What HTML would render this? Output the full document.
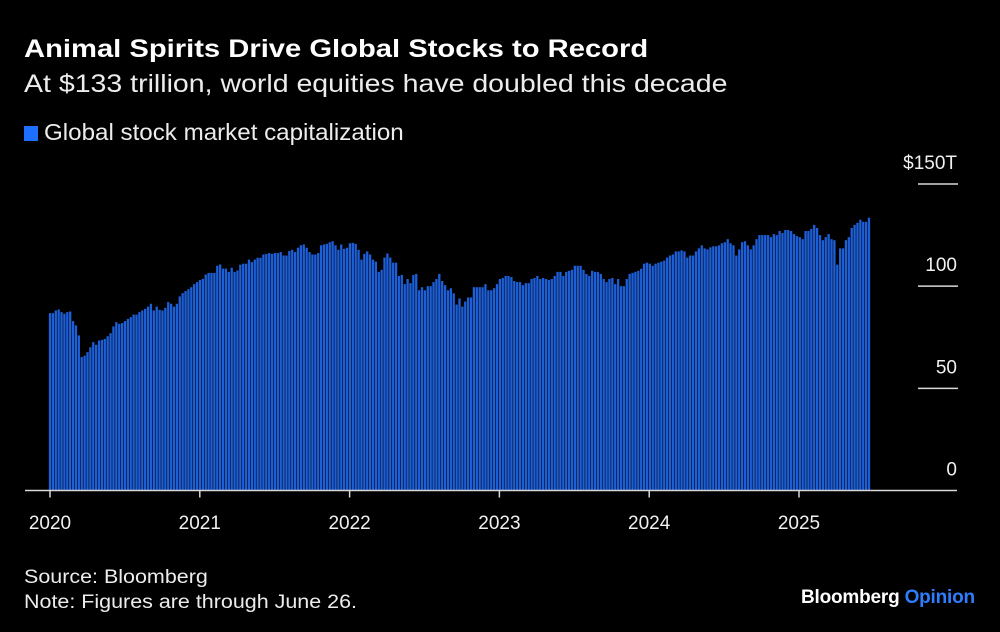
<!DOCTYPE html>
<html><head><meta charset="utf-8"><style>
body{margin:0;background:#000;width:1000px;height:632px;overflow:hidden;font-family:"Liberation Sans",sans-serif;color:#fff}
.t{position:absolute;white-space:nowrap;line-height:1;transform-origin:0 0}
</style></head><body>
<div class="t" style="left:24px;top:37px;font-size:25px;font-weight:bold;transform:scaleX(1.167)">Animal Spirits Drive Global Stocks to Record</div>
<div class="t" style="left:24px;top:72px;font-size:25px;color:#ececec;transform:scaleX(1.14)">At $133 trillion, world equities have doubled this decade</div>
<div class="t" style="left:24px;top:121px;font-size:23px;color:#ececec"><span style="display:inline-block;width:14px;height:15px;background:#1f6fff;margin-right:6px;vertical-align:-1px"></span><span style="display:inline-block;transform:scaleX(1.05);transform-origin:0 0">Global stock market capitalization</span></div>
<svg id="chart" width="1000" height="632" style="position:absolute;left:0;top:0"></svg>
<div class="t" style="left:24px;top:568px;font-size:19px;color:#ececec;transform:scaleX(1.13)">Source: Bloomberg</div>
<div class="t" style="left:24px;top:593px;font-size:19px;color:#ececec;transform:scaleX(1.13)">Note: Figures are through June 26.</div>
<div class="t" style="left:801px;top:588px;font-size:19px;font-weight:bold;letter-spacing:-0.2px">Bloomberg <span style="color:#2f7dff">Opinion</span></div>
<script>
const values=[86.8,86.8,88.1,88.6,87.3,86.5,87.3,87.6,82.9,80.8,75.9,65.3,66,67.7,70.1,72.6,71.3,73.4,73.7,74.2,75.5,77,80.3,82.4,81.6,81.9,82.9,84,84.8,86.1,86.1,87.3,88.1,88.9,90,91.4,88.1,90,88.4,88.1,89.4,92.2,91.4,90,91.4,95,96.6,97.6,98.5,99.5,101,102,103,103.6,105.7,106.5,106.5,106.5,110,110.6,108.6,108.6,107,109,107,107.7,110.5,111,111,113,111.8,113,113.9,113.9,115.5,115.8,116.2,115.8,116.2,116.2,116.7,115,115,117.2,117.8,116.7,118.8,120,120.4,118.8,116.7,115.5,115.5,116.2,120,120.4,120.7,121.5,122,120,117.8,120.4,118.3,118.8,121,121.2,120.7,117.8,113,115.8,
117,115.5,113,112,107,108,114,116,114,111.5,111.5,105,105.5,101,103.5,101.5,105.5,106,98,99.5,98,100,100,102,103.5,106,102.5,100.5,98,99,96.5,91,94,90,92.5,94.5,94.5,99.5,99.5,99.5,99.5,101,98,98,99,101,103.5,104,105,105,104.5,102.5,102,102,100.5,101.5,101.5,103.5,104,105,103.5,104,103.5,103,103.5,105,107,107,105,107,107.5,108,110,110,110,108,106,105,107.5,107,107,106,103.5,102,103.5,104,101,
103.5,100,100,103.5,106,106.5,107,107.5,108.5,111,111.5,111,110,111,111.5,112,112.5,114,115,115.5,117,117,117.5,117,114,115,115,117,118.5,120,118.5,118,119,119.5,119.5,120,121,121.5,123,121,120,115,118,121.5,122,120,118,120,123,125,125,125,125,124,125.5,125,127,126,127.5,127.5,127,125.5,124.5,124,123,127,127,128,130,128.5,125,122.5,124,125.5,123,122.5,110.5,118.5,118.5,122.5,124,128.5,130,131,132.5,131.5,131.5,133.5];
const yTicks=[0,50,100,150];
const yTickLabels=["0","50","100","$150T"];
const years=["2020","2021","2022","2023","2024","2025"];
const svg=document.getElementById('chart');
const NS='http://www.w3.org/2000/svg';
const y0=490.5, yPer=(490.5-184)/150;
const yScale=v=>y0-v*yPer;
const xYear=i=>50+i*149.8;
const x0=50, x1=869;
const xBar=i=>x0+i*(x1-x0)/(values.length-1);
function mk(t,a){const e=document.createElementNS(NS,t);for(const k in a)e.setAttribute(k,a[k]);svg.appendChild(e);return e;}
values.forEach((v,i)=>{
 const r=mk('rect',{x:xBar(i)-1.15,y:yScale(v),width:2.3,height:y0-yScale(v),fill:'#1d5fd8'});
 
 
});
yTicks.forEach((t,i)=>{
 if(t>0){const l=mk('line',{x1:918,x2:958,y1:yScale(t),y2:yScale(t),stroke:'#d8d8d8','stroke-width':1.5});
 
 }
 const tx=mk('text',{x:957,y:yScale(t)-15,'text-anchor':'end',fill:'#f0f0f0','font-size':19,'font-family':'Liberation Sans, sans-serif'});
 tx.textContent=yTickLabels[i];
 
 
});
const ax=mk('line',{x1:25,x2:957,y1:y0,y2:y0,stroke:'#d8d8d8','stroke-width':1.5});


years.forEach((yr,i)=>{
 const tk=mk('line',{x1:xYear(i),x2:xYear(i),y1:y0,y2:y0+7,stroke:'#d8d8d8','stroke-width':1.5});
 
 
 const tx=mk('text',{x:xYear(i),y:529,'text-anchor':'middle',fill:'#f0f0f0','font-size':19,'font-family':'Liberation Sans, sans-serif'});
 tx.textContent=yr;
 
 
});
</script>
</body></html>
